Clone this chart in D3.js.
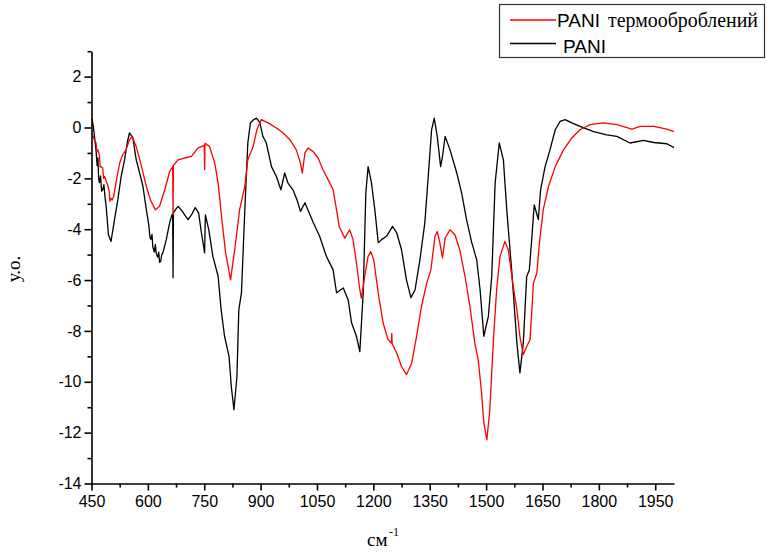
<!DOCTYPE html>
<html><head><meta charset="utf-8">
<script src="https://cdn.jsdelivr.net/npm/d3@7"></script>
<style>
body{margin:0;background:#fff;}
svg{display:block;}
.sans{font-family:"Liberation Sans",Arial,sans-serif;}
.serif{font-family:"Liberation Serif","Times New Roman",serif;}
</style></head>
<body><svg id="c" width="767" height="556"></svg>
<script>
// Series: [wavenumber cm^-1, value]
const pani = [
[451,0.35],[455,0.03],[462,-0.88],[465,-1.5],[467,-1.2],[469,-2.0],[471,-2.17],[474,-1.9],[477,-2.5],[480,-2.44],[483,-2.25],[486,-2.75],[489,-3.1],[495,-4.22],[502,-4.48],[511,-3.64],[520,-2.85],
[529,-1.92],[538,-1.27],[545,-0.6],[551,-0.21],[560,-0.4],[569,-1.27],[578,-1.78],[587,-2.32],[596,-3.24],[600,-3.6],[603,-3.9],[605,-4.28],[608,-4.4],[611,-4.2],
[613,-4.68],[617,-4.9],[620,-4.6],[622,-4.93],[626,-5.1],[629,-4.9],[631,-5.3],[634,-5.27],[637,-5.0],[640,-4.93],[649,-4.41],[658,-3.74],[664,-3.43],[666,-3.43],[667,-5.91],[668,-3.35],
[680,-3.1],[689,-3.24],[698,-3.44],[707,-3.62],[716,-3.44],[726,-3.15],[735,-3.36],[742,-4.09],[751,-4.93],[753,-3.44],
[762,-4.02],[773,-5.07],[787,-5.86],[795,-7.17],[804,-8.21],[816,-9.0],[822,-10.18],[829,-11.1],[837,-9.79],[842,-7.17],
[849,-6.5],[858,-3.24],[866,-0.6],[873,0.19],[882,0.31],[889,0.37],[898,0.19],[906,-0.35],[915,-0.6],[929,-1.54],
[942,-1.93],[954,-2.45],[964,-1.79],[973,-2.19],[986,-2.45],[997,-2.85],[1006,-3.3],[1018,-2.96],[1026,-3.24],[1040,-3.74],
[1057,-4.28],[1075,-5.07],[1093,-5.6],[1102,-6.5],[1120,-6.31],[1133,-6.78],[1142,-7.68],[1155,-8.21],[1164,-8.81],[1173,-6.5],
[1180,-2.57],[1186,-1.54],[1195,-2.18],[1204,-3.24],[1213,-4.53],[1222,-4.41],[1235,-4.28],[1251,-3.89],[1262,-4.14],[1275,-4.81],
[1288,-5.99],[1300,-6.69],[1311,-6.38],[1324,-5.2],[1337,-3.74],[1346,-1.93],[1355,-0.09],[1362,0.37],[1370,-0.35],[1379,-1.54],
[1384,-1.14],[1391,-0.35],[1404,-0.88],[1422,-1.79],[1435,-2.58],[1448,-3.62],[1462,-4.54],[1475,-5.2],[1484,-6.38],[1494,-8.21],
[1506,-7.43],[1515,-5.86],[1524,-2.19],[1535,-0.61],[1546,-1.27],[1555,-3.24],[1568,-5.6],[1582,-8.48],[1590,-9.65],[1599,-8.48],
[1608,-5.86],[1615,-5.6],[1622,-4.28],[1628,-3.04],[1639,-3.62],[1645,-2.45],[1657,-1.54],[1670,-0.88],[1684,-0.09],[1697,0.24],
[1710,0.31],[1728,0.18],[1750,0.04],[1786,-0.16],[1821,-0.29],[1848,-0.35],[1883,-0.61],[1919,-0.51],[1946,-0.59],[1981,-0.64],
[2000,-0.79]
];
const paniHeated = [
[452,-0.29],[458,-0.48],[462,-0.6],[464,-0.95],[467,-0.88],[471,-1.1],[473,-1.55],[476,-1.54],[480,-1.6],[482,-2.0],[485,-1.93],[489,-2.1],[493,-2.26],[497,-2.5],[499,-2.9],[501,-2.78],[505,-2.85],[509,-2.71],[518,-1.93],[525,-1.4],
[533,-1.07],[542,-0.88],[551,-0.48],[558,-0.35],[569,-0.75],[582,-1.47],[596,-2.32],[607,-2.85],[620,-3.24],[631,-3.1],
[645,-2.45],[658,-1.73],[666,-1.54],[667,-3.44],[668,-1.5],[680,-1.27],[698,-1.2],[716,-1.14],[733,-0.81],[742,-0.75],
[750,-0.7],[751,-1.66],[752,-0.62],[764,-0.75],[778,-1.4],[787,-2.19],[796,-3.5],[807,-4.94],[820,-5.99],[831,-4.81],
[844,-3.24],[858,-2.32],[866,-1.27],[880,-0.75],[890,-0.09],[902,0.31],[920,0.18],[942,-0.02],[960,-0.22],[978,-0.48],
[995,-0.88],[1006,-1.4],[1011,-1.79],[1018,-1.0],[1026,-0.81],[1040,-0.95],[1053,-1.2],[1066,-1.66],[1080,-2.06],[1093,-2.45],
[1102,-3.24],[1109,-3.89],[1124,-4.35],[1137,-4.02],[1146,-4.41],[1155,-5.33],[1164,-6.38],[1168,-6.71],[1177,-5.86],[1186,-5.07],
[1193,-4.88],[1201,-5.2],[1213,-6.51],[1226,-7.69],[1239,-8.34],[1248,-8.48],[1249,-8.1],[1250,-8.5],[1262,-8.87],[1275,-9.4],
[1288,-9.72],[1302,-9.27],[1315,-8.21],[1328,-7.04],[1342,-6.12],[1353,-5.6],[1364,-4.28],[1370,-4.09],[1377,-4.54],[1384,-5.13],
[1391,-4.35],[1404,-4.02],[1417,-4.22],[1430,-4.81],[1444,-5.86],[1457,-7.04],[1470,-8.48],[1479,-9.13],[1488,-10.44],[1494,-11.62],
[1502,-12.28],[1510,-11.1],[1519,-8.48],[1528,-6.38],[1537,-5.07],[1550,-4.48],[1559,-4.81],[1571,-6.12],[1582,-7.17],[1590,-8.21],
[1599,-8.93],[1608,-8.61],[1617,-8.35],[1626,-6.12],[1635,-5.72],[1642,-4.54],[1652,-3.24],[1666,-2.32],[1684,-1.54],[1706,-0.88],
[1728,-0.41],[1750,-0.09],[1777,0.11],[1812,0.18],[1848,0.11],[1888,-0.06],[1910,0.04],[1946,0.04],[1981,-0.06],[2000,-0.16]
];
const xTicks = [450,600,750,900,1050,1200,1350,1500,1650,1800,1950];
const xMinor = [525,675,825,975,1125,1275,1425,1575,1725,1875];
const yTicks = [-14,-12,-10,-8,-6,-4,-2,0,2];
const yMinor = [-13,-11,-9,-7,-5,-3,-1,1,3];
const seriesNames = ["PANI", "PANI"];
const seriesSuffix = ["термооброблений", ""];
const xTitle = "см";
const xTitleSup = "-1";
const yTitle = "у.о.";

const svg = d3.select("#c");
const x = d3.scaleLinear().domain([450,2000]).range([91.5,674]);
const y = d3.scaleLinear().domain([-14,3]).range([483.5,51.2]);

const line = d3.line().x(d=>x(d[0])).y(d=>y(d[1]));
svg.append("path").datum(pani).attr("d",line).attr("fill","none").attr("stroke","#000").attr("stroke-width",1.3).attr("stroke-linejoin","round");
svg.append("path").datum(paniHeated).attr("d",line).attr("fill","none").attr("stroke","#ff0000").attr("stroke-width",1.3).attr("stroke-linejoin","round");

function styleAxis(g){
  g.select(".domain").attr("stroke","#000").attr("stroke-width",1.6);
  g.selectAll(".tick line").attr("stroke","#000").attr("stroke-width",1.6);
  g.selectAll("text").attr("class","sans").attr("font-size",16).attr("fill","#000").attr("font-family",null);
}
const gx = svg.append("g").attr("transform",`translate(0,${y(-14)})`)
  .call(d3.axisBottom(x).tickValues(xTicks).tickSize(7).tickPadding(5).tickSizeOuter(0).tickFormat(d3.format("d")));
styleAxis(gx);
const gxm = svg.append("g").attr("transform",`translate(0,${y(-14)})`)
  .call(d3.axisBottom(x).tickValues(xMinor).tickSize(4).tickFormat(""));
gxm.select(".domain").remove(); gxm.selectAll(".tick line").attr("stroke","#000").attr("stroke-width",1.6);

const gy = svg.append("g").attr("transform",`translate(${x(450)},0)`)
  .call(d3.axisLeft(y).tickValues(yTicks).tickSize(7).tickPadding(3).tickSizeOuter(0).tickFormat(d3.format("d")));
styleAxis(gy);
gy.selectAll("text").text(d=>String(d));
const gym = svg.append("g").attr("transform",`translate(${x(450)},0)`)
  .call(d3.axisLeft(y).tickValues(yMinor).tickSize(4).tickFormat(""));
gym.select(".domain").remove(); gym.selectAll(".tick line").attr("stroke","#000").attr("stroke-width",1.6);

// axis titles
svg.append("text").attr("class","serif").attr("font-size",19)
  .attr("transform","translate(20,269) rotate(-90)").attr("text-anchor","middle").text(yTitle);
svg.append("text").attr("class","serif").attr("font-size",19).attr("x",367).attr("y",546).text(xTitle);
svg.append("text").attr("class","serif").attr("font-size",12).attr("x",389).attr("y",536).text(xTitleSup);

// legend
const lg = svg.append("g");
lg.append("rect").attr("x",499.5).attr("y",4.5).attr("width",265).attr("height",53)
  .attr("fill","#fff").attr("stroke","#333").attr("stroke-width",1.2);
const colors = ["#ff0000","#000"];
const rowsY = [20, 43.5];
const baseY = [27, 52.5];
const textX = [557, 563];
seriesNames.forEach((n,i)=>{
  lg.append("line").attr("x1",510).attr("x2",556).attr("y1",rowsY[i]).attr("y2",rowsY[i])
    .attr("stroke",colors[i]).attr("stroke-width",1.3);
  lg.append("text").attr("class","sans").attr("font-size",19).attr("x",textX[i]).attr("y",baseY[i]).text(n);
  if(seriesSuffix[i]) lg.append("text").attr("class","serif").attr("font-size",20)
    .attr("x",608).attr("y",baseY[i]).attr("textLength",150).attr("lengthAdjust","spacingAndGlyphs").text(seriesSuffix[i]);
});
</script></body></html>
